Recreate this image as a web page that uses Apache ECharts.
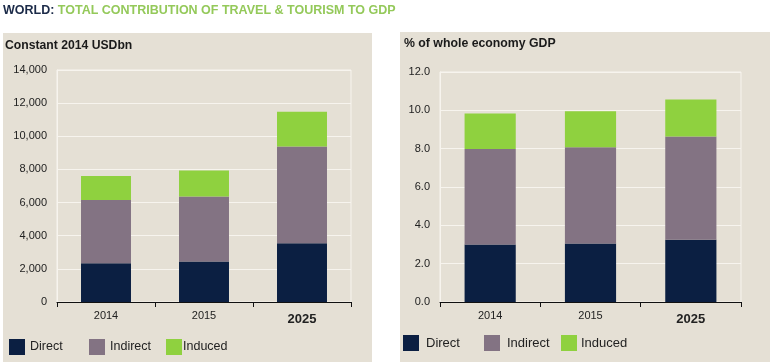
<!DOCTYPE html>
<html><head><meta charset="utf-8">
<script src="https://cdn.jsdelivr.net/npm/echarts@6/dist/echarts.min.js"></script>
<style>html,body{margin:0;padding:0;background:#fff}#c{width:773px;height:364px}</style>
</head><body><div id="c"></div>
<script>
const categories = ['2014', '2015', '2025'];
const usdDirect = [2340, 2440, 3550];
const usdIndirect = [3820, 3920, 5830];
const usdInduced = [1450, 1570, 2100];
const pctDirect = [3.0, 3.05, 3.25];
const pctIndirect = [4.98, 5.02, 5.39];
const pctInduced = [1.85, 1.88, 1.92];
const seriesNames = ['Direct', 'Indirect', 'Induced'];

const colors = ['#0b1f42', '#837383', '#8fd13f'];
const FONT = '"Liberation Sans", Arial, sans-serif';
const chart = echarts.init(document.getElementById('c'), null, {renderer: 'canvas'});

const xLabel = {
  color: '#222', fontFamily: FONT, fontSize: 11, margin: 8,
  formatter: v => v === '2025' ? '{b|' + v + '}' : v,
  rich: {b: {fontWeight: 'bold', fontSize: 13, color: '#222', fontFamily: FONT, padding: [3, 0, 0, 0]}}
};
function xAxis(gi) {
  return {
    type: 'category', gridIndex: gi, data: categories,
    axisLine: {show: true, lineStyle: {color: '#111', width: 1}},
    axisTick: {show: true, length: 5, lineStyle: {color: '#111'}},
    axisLabel: xLabel
  };
}
function yAxis(gi, max, interval, fmt) {
  return {
    type: 'value', gridIndex: gi, min: 0, max: max, interval: interval,
    axisLine: {show: true, lineStyle: {color: '#f7f4ee'}},
    axisTick: {show: false},
    splitLine: {show: true, lineStyle: {color: '#f7f4ee', width: 1}},
    axisLabel: {color: '#222', fontFamily: FONT, fontSize: 11, margin: 10, formatter: fmt}
  };
}
function legend(name, left, top, fs, gap) {
  return {
    data: [name], left: left, top: top, icon: 'rect', itemWidth: 16, itemHeight: 16,
    itemGap: 0, padding: 0, selectedMode: false,
    textStyle: {color: '#222', fontFamily: FONT, fontSize: fs, padding: [0, 0, 0, gap]}
  };
}
const lefts = [[9, 89, 166], [403, 484, 561]];
const mk = (name, data, i, ax) => ({
  name: name, type: 'bar', stack: 's' + ax, xAxisIndex: ax, yAxisIndex: ax,
  data: data, barWidth: '51%', itemStyle: {color: colors[i]}
});

chart.setOption({
  animation: false,
  backgroundColor: '#ffffff',
  graphic: [
    {type: 'rect', shape: {x: 3, y: 33, width: 369, height: 329}, style: {fill: '#e5e0d5'}, z: -10},
    {type: 'rect', shape: {x: 400, y: 32, width: 370, height: 330}, style: {fill: '#e5e0d5'}, z: -10}
  ],
  title: [
    {text: '{a|WORLD: }{b|TOTAL CONTRIBUTION OF TRAVEL & TOURISM TO GDP}', left: 3, top: 4, padding: 0,
     textStyle: {rich: {
       a: {color: '#1b2a48', fontWeight: 'bold', fontSize: 12.5, fontFamily: FONT},
       b: {color: '#94c95a', fontWeight: 'bold', fontSize: 12.5, fontFamily: FONT}}}},
    {text: 'Constant 2014 USDbn', left: 5, top: 40, padding: 0,
     textStyle: {color: '#1a1a1a', fontWeight: 'bold', fontSize: 12.2, fontFamily: FONT}},
    {text: '% of whole economy GDP', left: 404, top: 38, padding: 0,
     textStyle: {color: '#1a1a1a', fontWeight: 'bold', fontSize: 12.3, fontFamily: FONT}}
  ],
  legend: [
    legend('Direct', lefts[0][0], 339, 12.5, 0),
    legend('Indirect', lefts[0][1], 339, 12.5, 0),
    legend('Induced', lefts[0][2], 339, 12.5, -4),
    legend('Direct', lefts[1][0], 335, 13, 2),
    legend('Indirect', lefts[1][1], 335, 13, 2),
    legend('Induced', lefts[1][2], 335, 13, -1)
  ],
  grid: [
    {left: 57, right: 422, top: 70, bottom: 62, show: true, borderColor: '#f7f4ee', borderWidth: 1, backgroundColor: 'transparent'},
    {left: 440, right: 32, top: 72, bottom: 62, show: true, borderColor: '#f7f4ee', borderWidth: 1, backgroundColor: 'transparent'}
  ],
  xAxis: [xAxis(0), xAxis(1)],
  yAxis: [
    yAxis(0, 14000, 2000, v => v.toLocaleString('en-US')),
    yAxis(1, 12, 2, v => v.toFixed(1))
  ],
  series: [
    mk(seriesNames[0], usdDirect, 0, 0),
    mk(seriesNames[1], usdIndirect, 1, 0),
    mk(seriesNames[2], usdInduced, 2, 0),
    mk(seriesNames[0], pctDirect, 0, 1),
    mk(seriesNames[1], pctIndirect, 1, 1),
    mk(seriesNames[2], pctInduced, 2, 1)
  ]
});
</script></body></html>
